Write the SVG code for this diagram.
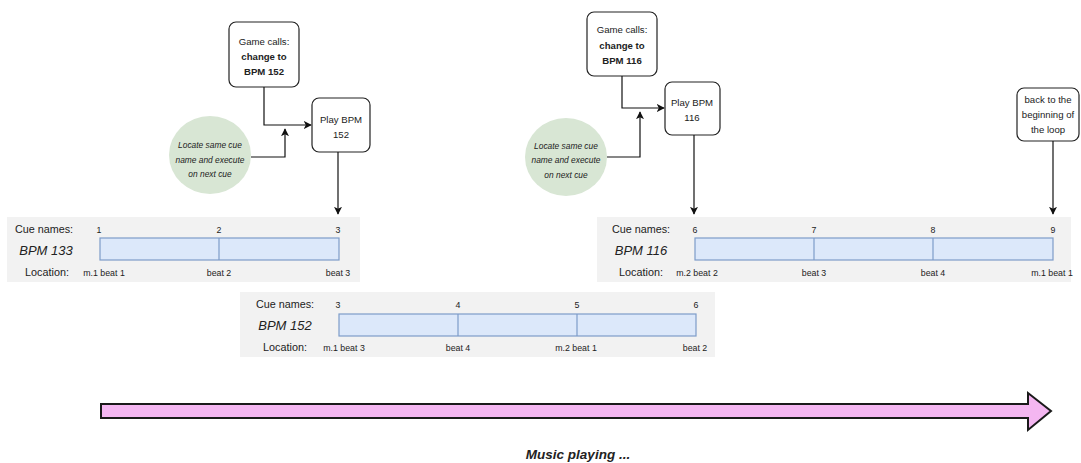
<svg xmlns="http://www.w3.org/2000/svg" width="1081" height="463" viewBox="0 0 1081 463">
  <style>
    text { font-family: "Liberation Sans", Arial, sans-serif; fill: #222; }
    .box { fill: #ffffff; stroke: #222; stroke-width: 1.2; }
    .bt { font-size: 9.6px; text-anchor: middle; }
    .bb { font-size: 9.6px; font-weight: bold; text-anchor: middle; }
    .note { fill: #d8e6d4; stroke: none; }
    .nt { font-size: 8.4px; font-style: italic; text-anchor: middle; }
    .panel { fill: #f2f2f2; stroke: none; }
    .bar { fill: #dce8fa; stroke: #7d9cc9; stroke-width: 1.2; }
    .lbl { font-size: 10.8px; text-anchor: middle; }
    .bpm { font-size: 13px; font-style: italic; text-anchor: middle; }
    .num { font-size: 8.8px; text-anchor: middle; }
    .wire { fill: none; stroke: #111; stroke-width: 1.2; }
    .title { font-size: 13.5px; font-weight: bold; font-style: italic; text-anchor: middle; }
  </style>
  <defs>
    <marker id="tip" viewBox="0 0 10 10" refX="9" refY="5" markerWidth="8" markerHeight="8" markerUnits="userSpaceOnUse" orient="auto">
      <path d="M0,0 L10,5 L0,10 L2.5,5 Z" fill="#111"/>
    </marker>
  </defs>

  <!-- timeline panel: BPM 133 -->
  <g id="track-133">
    <rect class="panel" x="7" y="217" width="353" height="65"/>
    <text class="lbl" x="44" y="233">Cue names:</text>
    <text class="bpm" x="46" y="255">BPM 133</text>
    <text class="lbl" x="47" y="276">Location:</text>
    <rect class="bar" x="100" y="238" width="239" height="22"/>
    <line x1="219" y1="238" x2="219" y2="260" stroke="#7d9cc9" stroke-width="1.2"/>
    <text class="num" x="99" y="233">1</text>
    <text class="num" x="219" y="233">2</text>
    <text class="num" x="338" y="233">3</text>
    <text class="num" x="104" y="276">m.1 beat 1</text>
    <text class="num" x="219" y="276">beat 2</text>
    <text class="num" x="338" y="276">beat 3</text>
  </g>

  <!-- timeline panel: BPM 152 -->
  <g id="track-152">
    <rect class="panel" x="240" y="292" width="475" height="65"/>
    <text class="lbl" x="285" y="308">Cue names:</text>
    <text class="bpm" x="285" y="330">BPM 152</text>
    <text class="lbl" x="285" y="351">Location:</text>
    <rect class="bar" x="339" y="314" width="357" height="22"/>
    <line x1="458" y1="314" x2="458" y2="336" stroke="#7d9cc9" stroke-width="1.2"/>
    <line x1="577" y1="314" x2="577" y2="336" stroke="#7d9cc9" stroke-width="1.2"/>
    <text class="num" x="338" y="308">3</text>
    <text class="num" x="458" y="308">4</text>
    <text class="num" x="577" y="308">5</text>
    <text class="num" x="696" y="308">6</text>
    <text class="num" x="344" y="351">m.1 beat 3</text>
    <text class="num" x="458" y="351">beat 4</text>
    <text class="num" x="576" y="351">m.2 beat 1</text>
    <text class="num" x="695" y="351">beat 2</text>
  </g>

  <!-- timeline panel: BPM 116 -->
  <g id="track-116">
    <rect class="panel" x="597" y="217" width="474" height="65"/>
    <text class="lbl" x="641" y="233">Cue names:</text>
    <text class="bpm" x="641" y="255">BPM 116</text>
    <text class="lbl" x="641" y="276">Location:</text>
    <rect class="bar" x="695" y="238" width="358" height="22"/>
    <line x1="814" y1="238" x2="814" y2="260" stroke="#7d9cc9" stroke-width="1.2"/>
    <line x1="933" y1="238" x2="933" y2="260" stroke="#7d9cc9" stroke-width="1.2"/>
    <text class="num" x="695" y="233">6</text>
    <text class="num" x="814" y="233">7</text>
    <text class="num" x="933" y="233">8</text>
    <text class="num" x="1053" y="233">9</text>
    <text class="num" x="697" y="276">m.2 beat 2</text>
    <text class="num" x="814" y="276">beat 3</text>
    <text class="num" x="933" y="276">beat 4</text>
    <text class="num" x="1052" y="276">m.1 beat 1</text>
  </g>

  <!-- first tempo change -->
  <g id="call-152">
    <rect class="box" x="229" y="22" width="70" height="65" rx="7"/>
    <text class="bt" x="264" y="45">Game calls:</text>
    <text class="bb" x="264" y="60">change to</text>
    <text class="bb" x="264" y="75">BPM 152</text>
  </g>
  <g id="play-152">
    <rect class="box" x="312" y="98" width="58" height="54" rx="7"/>
    <text class="bt" x="341" y="123">Play BPM</text>
    <text class="bt" x="341" y="138">152</text>
  </g>
  <g id="note-1">
    <ellipse class="note" cx="210" cy="155" rx="41" ry="39"/>
    <text class="nt" x="210" y="148">Locate same cue</text>
    <text class="nt" x="210" y="163">name and execute</text>
    <text class="nt" x="210" y="177">on next cue</text>
  </g>

  <!-- second tempo change -->
  <g id="call-116">
    <rect class="box" x="587" y="12" width="70" height="64" rx="7"/>
    <text class="bt" x="622" y="33">Game calls:</text>
    <text class="bb" x="622" y="49">change to</text>
    <text class="bb" x="622" y="64">BPM 116</text>
  </g>
  <g id="play-116">
    <rect class="box" x="665" y="82" width="55" height="53" rx="7"/>
    <text class="bt" x="692" y="106">Play BPM</text>
    <text class="bt" x="692" y="121">116</text>
  </g>
  <g id="note-2">
    <ellipse class="note" cx="566" cy="157" rx="41" ry="39"/>
    <text class="nt" x="566" y="149">Locate same cue</text>
    <text class="nt" x="566" y="163">name and execute</text>
    <text class="nt" x="566" y="178">on next cue</text>
  </g>

  <!-- loop return -->
  <g id="loop-back">
    <rect class="box" x="1017" y="88" width="62" height="53" rx="7"/>
    <text class="bt" x="1048" y="103">back to the</text>
    <text class="bt" x="1048" y="118">beginning of</text>
    <text class="bt" x="1048" y="133">the loop</text>
  </g>

  <!-- connectors -->
  <g id="connectors">
    <polyline class="wire" points="264,87 264,125 311,125" marker-end="url(#tip)"/>
    <polyline class="wire" points="251,157 285,157 285,129" marker-end="url(#tip)"/>
    <line class="wire" x1="338" y1="152" x2="338" y2="214" marker-end="url(#tip)"/>
    <polyline class="wire" points="622,76 622,108 664,108" marker-end="url(#tip)"/>
    <polyline class="wire" points="607,157 640,157 640,112" marker-end="url(#tip)"/>
    <line class="wire" x1="694" y1="135" x2="694" y2="214" marker-end="url(#tip)"/>
    <line class="wire" x1="1053" y1="141" x2="1053" y2="214" marker-end="url(#tip)"/>
  </g>

  <!-- playback direction -->
  <g id="timeline-arrow">
    <path d="M101,404 L1028,404 L1028,393 L1051,411 L1028,430 L1028,418 L101,418 Z" fill="#f4b6f1" stroke="#1a1a1a" stroke-width="2" stroke-linejoin="miter"/>
    <text class="title" x="578" y="459">Music playing ...</text>
  </g>
</svg>
